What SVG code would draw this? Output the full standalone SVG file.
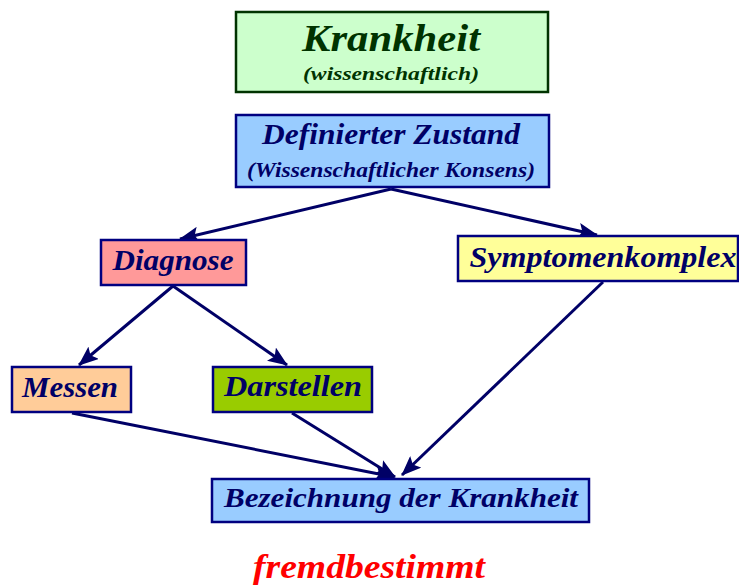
<svg xmlns="http://www.w3.org/2000/svg" width="739" height="585" viewBox="0 0 739 585">
<style>
.t{font-family:"Liberation Serif","DejaVu Serif",serif;font-style:italic;font-weight:bold;text-anchor:middle;fill:#000066}
.b{stroke:#000080;stroke-width:2.5}
.c{stroke:#000066;stroke-width:3;fill:none;marker-end:url(#ah)}
</style>
<defs>
<marker id="ah" viewBox="0 0 20 16" refX="19" refY="8" markerWidth="20" markerHeight="16" markerUnits="userSpaceOnUse" orient="auto">
<path d="M0,0 L20,8 L0,16 L4,8 Z" fill="#000066"/>
</marker>
</defs>
<g id="connectors">
<line class="c" x1="391" y1="189" x2="180" y2="239"/>
<line class="c" x1="391" y1="189" x2="597" y2="235"/>
<line class="c" x1="173" y1="286" x2="79" y2="365"/>
<line class="c" x1="173" y1="286" x2="287" y2="365"/>
<line class="c" x1="72" y1="413" x2="394" y2="477"/>
<line class="c" x1="292" y1="413" x2="395" y2="477"/>
<line class="c" x1="603" y1="282" x2="402" y2="475"/>
</g>
<g id="krankheit">
<rect x="236" y="12" width="312" height="80" fill="#ccffcc" stroke="#003300" stroke-width="2.5"/>
<text class="t" x="391" y="51" font-size="37" style="fill:#003300" textLength="178" lengthAdjust="spacingAndGlyphs">Krankheit</text>
<text class="t" x="391" y="80" font-size="19" style="fill:#003300" textLength="176" lengthAdjust="spacingAndGlyphs">(wissenschaftlich)</text>
</g>
<g id="zustand">
<rect class="b" x="236" y="115" width="313" height="72" fill="#99ccff"/>
<text class="t" x="391" y="144" font-size="29" textLength="258" lengthAdjust="spacingAndGlyphs">Definierter Zustand</text>
<text class="t" x="391" y="177" font-size="20" textLength="288" lengthAdjust="spacingAndGlyphs">(Wissenschaftlicher Konsens)</text>
</g>
<g id="diagnose">
<rect class="b" x="101" y="240" width="145" height="45" fill="#ff9999"/>
<text class="t" x="173" y="270" font-size="29" textLength="121" lengthAdjust="spacingAndGlyphs">Diagnose</text>
</g>
<g id="symptomenkomplex">
<rect class="b" x="458" y="236" width="280" height="45" fill="#ffff99"/>
<text class="t" x="603" y="267" font-size="29" textLength="267" lengthAdjust="spacingAndGlyphs">Symptomenkomplex</text>
</g>
<g id="messen">
<rect class="b" x="12" y="367" width="119" height="45" fill="#ffcc99"/>
<text class="t" x="70" y="397" font-size="29" textLength="96" lengthAdjust="spacingAndGlyphs">Messen</text>
</g>
<g id="darstellen">
<rect class="b" x="213" y="367" width="159" height="45" fill="#99cc00"/>
<text class="t" x="293" y="396" font-size="29" textLength="138" lengthAdjust="spacingAndGlyphs">Darstellen</text>
</g>
<g id="bezeichnung">
<rect class="b" x="212" y="479" width="377" height="43" fill="#99ccff"/>
<text class="t" x="401" y="507" font-size="28" textLength="354" lengthAdjust="spacingAndGlyphs">Bezeichnung der Krankheit</text>
</g>
<g id="fremdbestimmt">
<text class="t" x="369" y="578" font-size="33" style="fill:#ff0000" textLength="232" lengthAdjust="spacingAndGlyphs">fremdbestimmt</text>
</g>
</svg>
